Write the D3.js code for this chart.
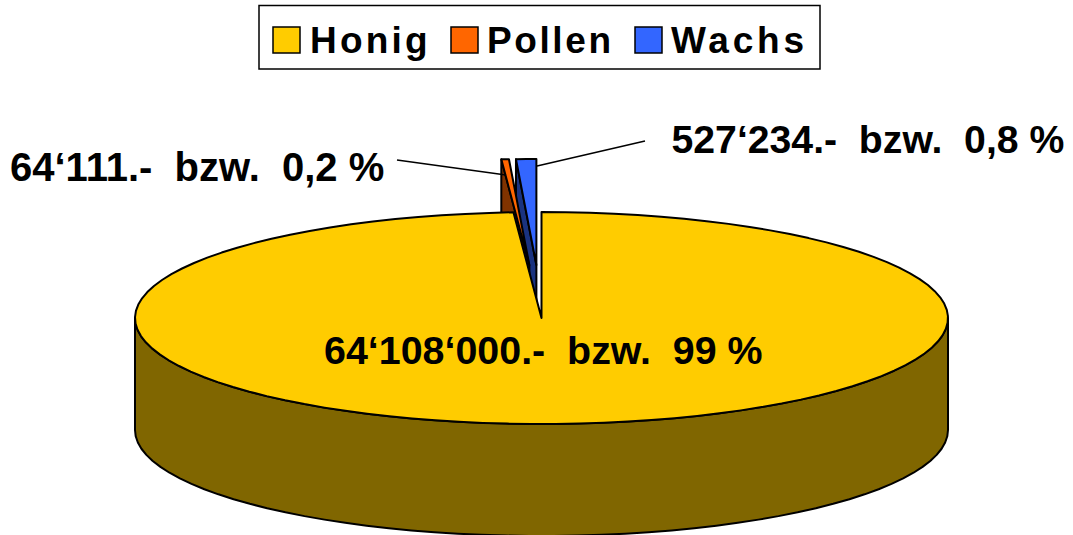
<!DOCTYPE html>
<html><head><meta charset="utf-8">
<script src="https://cdn.jsdelivr.net/npm/d3@7"></script>
<style>html,body{margin:0;padding:0;background:#fff}svg{display:block}text{font-family:"Liberation Sans",Arial,sans-serif;font-weight:bold;fill:#000;white-space:pre}</style>
</head><body><svg id="c" width="1073" height="535"></svg>
<script>
const categories=["Honig","Pollen","Wachs"];
const shares=[98.9,0.3,0.8];
const topColors=["#FFCC00","#FF6600","#3366FF"];
const sideColors=["#806600","#803300","#1A3380"];
const explode=[0,0.5,0.5];
const labels=["64‘108‘000.-  bzw.  99 %","64‘111.-  bzw.  0,2 %","527‘234.-  bzw.  0,8 %"];

const svg=d3.select("#c");
const x=d3.scaleLinear().domain([-1,1]).range([135,948]);
const y=d3.scaleLinear().domain([-1,1]).range([212,424]);
const depth=112;
const ox=x(0),oy=y(0);
const arcs=d3.pie().sort(null).value(d=>d)(shares);
const P=(a,off,dz=0)=>[x(Math.sin(a))+off[0],y(-Math.cos(a))+off[1]+dz];
const line=d3.line();
function poly(pts,fill){svg.append("path").attr("d",line(pts)+"Z").attr("fill",fill).attr("stroke","#000").attr("stroke-width",2).attr("stroke-linejoin","round");}
function arcPts(a0,a1,off,dz=0){const n=Math.max(2,Math.ceil(Math.abs(a1-a0)/0.06));return d3.range(n+1).map(i=>P(a0+(a1-a0)*i/n,off,dz));}

const offs=arcs.map((d,i)=>{const m=(d.startAngle+d.endAngle)/2;return [(x(Math.sin(m))-ox)*explode[i],(y(-Math.cos(m))-oy)*explode[i]];});

[2,1].forEach(i=>{
  const d=arcs[i],o=offs[i];
  const rim=P(d.startAngle,o),apex=[ox+o[0],oy+o[1]];
  poly([rim,apex,[apex[0],apex[1]+depth],[rim[0],rim[1]+depth]],sideColors[i]);
  poly([apex,...arcPts(d.startAngle,d.endAngle,o)],topColors[i]);
});

const wall=arcPts(Math.PI/2,3*Math.PI/2,[0,0]);
poly([...wall,...arcPts(3*Math.PI/2,Math.PI/2,[0,0],depth)],sideColors[0]);
poly([[ox,oy],...arcPts(0,arcs[0].endAngle,[0,0])],topColors[0]);

[[[397,160],[506,175]],[[645,141],[537,166]]].forEach(l=>{
  svg.append("path").attr("d",line(l)).attr("fill","none").attr("stroke","#000").attr("stroke-width",1.5);
});

svg.selectAll("text.lab").data(labels).join("text").attr("class","lab")
  .attr("x",(d,i)=>[324,10,671.5][i]).attr("y",(d,i)=>[364,181,153][i])
  .attr("font-size",(d,i)=>[39.4,40,39.2][i]).text(d=>d);

svg.append("rect").attr("x",259).attr("y",5.5).attr("width",561).attr("height",63.5).attr("fill","#fff").attr("stroke","#000").attr("stroke-width",1.5);
const swX=[273,451,635],txtX=[310,487,671],legendSpacing=[3.2,2.6,3.8];
categories.forEach((c,i)=>{
  svg.append("rect").attr("x",swX[i]).attr("y",27).attr("width",27).attr("height",26).attr("fill",topColors[i]).attr("stroke","#000").attr("stroke-width",1.5);
  svg.append("text").attr("x",txtX[i]).attr("y",53).attr("font-size",37).attr("letter-spacing",legendSpacing[i]).text(c);
});
</script></body></html>
